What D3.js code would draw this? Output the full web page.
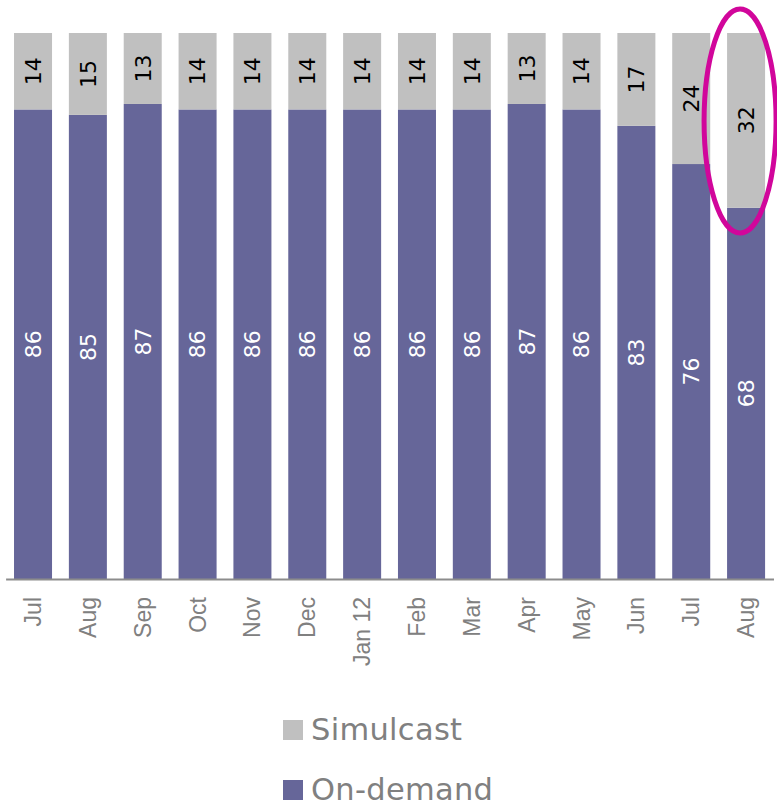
<!DOCTYPE html>
<html><head><meta charset="utf-8">
<script src="https://cdn.jsdelivr.net/npm/d3@7"></script>
<style>body{margin:0;background:#fff}svg{display:block}</style>
</head><body>
<script>
const categories = ["Jul","Aug","Sep","Oct","Nov","Dec","Jan 12","Feb","Mar","Apr","May","Jun","Jul","Aug"];
const onDemand = [86,85,87,86,86,86,86,86,86,87,86,83,76,68];
const simulcast = [14,15,13,14,14,14,14,14,14,13,14,17,24,32];
const seriesNames = ["Simulcast","On-demand"];
const colors = {"On-demand":"#666699","Simulcast":"#C0C0C0"};

const W=777,H=802;
const svg=d3.select("body").append("svg").attr("width",W).attr("height",H);
const idx=categories.map((_,i)=>i);
const x=d3.scaleBand().domain(idx).range([5.6,773.5]).paddingInner(0.307).paddingOuter(0.1535);
const y=d3.scaleLinear().domain([0,100]).range([579,33]);

const data=idx.map(i=>({i,"On-demand":onDemand[i],"Simulcast":simulcast[i]}));
const stack=d3.stack().keys(["On-demand","Simulcast"]);
const layers=stack(data);

const g=svg.append("g");
layers.forEach(layer=>{
  const key=layer.key;
  g.selectAll(null).data(layer).enter().append("rect")
    .attr("x",d=>x(d.data.i)).attr("width",x.bandwidth())
    .attr("y",d=>y(d[1])).attr("height",d=>y(d[0])-y(d[1]))
    .attr("fill",colors[key]);
  g.selectAll(null).data(layer).enter().append("text")
    .attr("transform",d=>`translate(${x(d.data.i)+x.bandwidth()/2},${(y(d[0])+y(d[1]))/2}) rotate(-90)`)
    .attr("text-anchor","middle").attr("dy","0.36em")
    .style("font-family","'DejaVu Sans', Verdana, sans-serif").style("font-size","22px")
    .attr("fill",key==="On-demand"?"#ffffff":"#000000")
    .text(d=>d.data[key]);
});

const axis=d3.axisBottom(x).tickSize(0).tickFormat(i=>categories[i]);
const ax=svg.append("g").attr("transform","translate(0,579)").call(axis);
ax.select(".domain").attr("stroke","#8c8c8c").attr("stroke-width",2);
ax.selectAll("text").attr("transform","rotate(-90)").attr("x",-18).attr("y",0).attr("dy","0.35em")
  .style("text-anchor","end").style("font-family","'Liberation Sans', Arial, sans-serif")
  .style("font-size","23px").attr("fill","#808080");

// highlight ellipse around last bar
const last=idx[idx.length-1];
svg.append("ellipse").attr("cx",x(last)+x.bandwidth()/2-6).attr("cy",121)
  .attr("rx",36).attr("ry",112).attr("fill","none").attr("stroke","#D1069B").attr("stroke-width",5);

// legend
const leg=svg.append("g");
seriesNames.forEach((s,k)=>{
  const yy=720+k*60;
  leg.append("rect").attr("x",283).attr("y",yy).attr("width",20).attr("height",20).attr("fill",colors[s]);
  leg.append("text").attr("x",311).attr("y",yy+20).text(s)
    .style("font-family","'DejaVu Sans', Verdana, sans-serif").style("font-size","30.5px")
    .style("letter-spacing","0.3px").attr("fill","#808080");
});
</script>
</body></html>
